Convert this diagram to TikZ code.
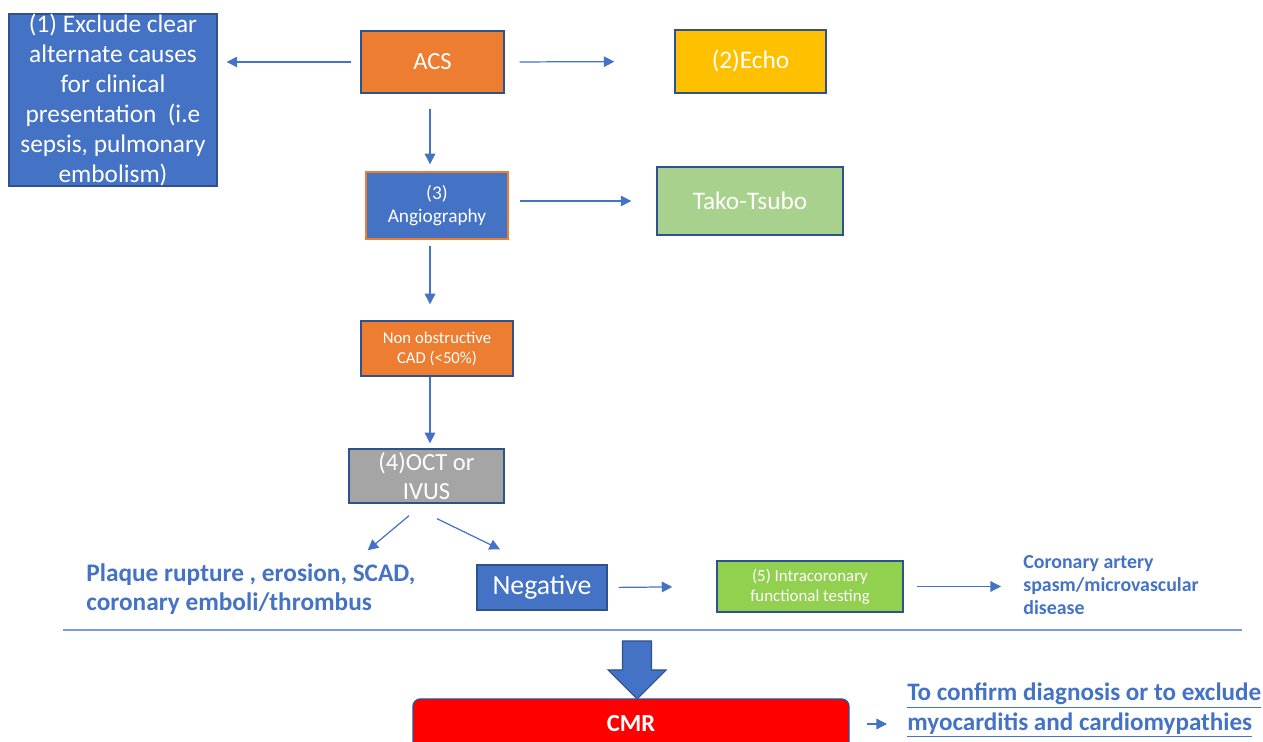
\documentclass[tikz,border=0pt]{standalone}
\usepackage{fontspec}
\setmainfont{Carlito}
\usetikzlibrary{arrows.meta}

\definecolor{boxblue}{HTML}{4472C4}
\definecolor{edgeblue}{HTML}{2F528F}
\definecolor{boxorange}{HTML}{ED7D31}
\definecolor{boxgold}{HTML}{FFC000}
\definecolor{boxsage}{HTML}{A9D18E}
\definecolor{boxlime}{HTML}{92D050}
\definecolor{boxgrey}{HTML}{A5A5A5}
\definecolor{boxred}{HTML}{FF0000}

\tikzset{
    box/.style={draw=edgeblue, line width=0.8pt, text=white, align=center, inner sep=0pt},
    flow/.style={draw=boxblue, line width=0.7pt, -{Triangle[length=6pt, width=6pt]}},
    note/.style={text=boxblue, align=left, inner sep=0pt, anchor=west}
}

\begin{document}
\begin{tikzpicture}
        \useasboundingbox (0, 0) rectangle (25.26, 14.84);

        % Boxes and labels:
        \node[box, fill=boxblue, minimum width=4.16cm, minimum height=3.44cm, font=\fontsize{14.4}{17}\selectfont] (excl) at (2.26, 12.84) {(1) Exclude clear\\ alternate causes\\ for clinical\\ presentation~~(i.e\\ sepsis, pulmonary\\ embolism)};
        \node[box, fill=boxorange, minimum width=2.86cm, minimum height=1.24cm, font=\fontsize{14}{17}\selectfont] (acs) at (8.65, 13.6) {ACS};
        \node[box, fill=boxgold, minimum width=3.02cm, minimum height=1.26cm, font=\fontsize{14.4}{17}\selectfont] (echo) at (15.01, 13.61) {(2)Echo};
        \node[box, draw=boxorange, fill=boxblue, minimum width=2.84cm, minimum height=1.34cm, font=\fontsize{11}{13}\selectfont] (angio) at (8.74, 10.73) {(3)\\ Angiography};
        \node[box, fill=boxsage, minimum width=3.72cm, minimum height=1.36cm, font=\fontsize{14.4}{17}\selectfont] (tako) at (15.0, 10.82) {Tako-Tsubo};
        \node[box, fill=boxorange, minimum width=3.04cm, minimum height=1.1cm, font=\fontsize{9.5}{11.5}\selectfont] (nonobs) at (8.74, 7.87) {Non obstructive\\ CAD (<50\%)};
        \node[box, fill=boxgrey, minimum width=3.1cm, minimum height=1.08cm, font=\fontsize{14}{16.5}\selectfont] (oct) at (8.53, 5.32) {(4)OCT or\\ IVUS};
        \node[note, font=\bfseries\fontsize{14.4}{16.5}\selectfont] (plaque) at (1.72, 3.06) {Plaque rupture , erosion, SCAD,\\ coronary emboli/thrombus};
        \node[box, fill=boxblue, minimum width=2.6cm, minimum height=0.9cm, font=\fontsize{15.8}{17}\selectfont] (neg) at (10.84, 3.09) {Negative};
        \node[box, fill=boxlime, minimum width=3.72cm, minimum height=1.02cm, font=\fontsize{9.6}{11.5}\selectfont] (intra) at (16.2, 3.11) {(5) Intracoronary\\ functional testing};
        \node[note, font=\bfseries\fontsize{11.3}{13}\selectfont] (spasm) at (20.46, 3.14) {Coronary artery\\ spasm/microvascular\\ disease};
        \node[box, fill=boxred, rounded corners=0.15cm, minimum width=8.72cm, minimum height=1.0cm, font=\bfseries\fontsize{14}{15}\selectfont] (cmr) at (12.62, 0.36) {CMR};
        \node[note, font=\bfseries\fontsize{14.3}{17}\selectfont] (goal) at (18.14, 0.64) {\underline{To confirm diagnosis or to exclude}\\ \underline{myocarditis and cardiomypathies}};

        % Divider and block arrow:
        \draw[boxblue!70, line width=0.6pt] (1.26, 2.24) -- (24.84, 2.24);
        \coordinate (tip) at (12.74, 0.86);
        \filldraw[fill=boxblue, draw=edgeblue, line width=0.6pt] (tip) -- ++(0.58, 0.58) -- ++(-0.29, 0) -- ++(0, 0.58) -- ++(-0.58, 0) -- ++(0, -0.58) -- ++(-0.29, 0) -- cycle;

        % Arrows:
        \draw[flow, shorten <=0.18cm, shorten >=0.18cm] (acs.west) -- (acs.west -| excl.east);
        \draw[flow, shorten <=0.3cm, shorten >=1.2cm] (acs.east) -- (echo.west);
        \draw[flow, shorten <=0.3cm, shorten >=0.14cm] ([xshift=-0.05cm]acs.south) -- ([xshift=-0.05cm]acs.south |- angio.north);
        \draw[flow, shorten <=0.22cm, shorten >=0.5cm] (tako.west -| angio.east) -- (tako.west);
        \draw[flow, shorten <=0.12cm, shorten >=0.32cm] ([xshift=-0.14cm]angio.south) -- ([xshift=-0.14cm]nonobs.north);
        \draw[flow, shorten >=0.1cm] ([xshift=-0.14cm]nonobs.south) -- ([xshift=-0.14cm]nonobs.south |- oct.north);
        \draw[flow] ([xshift=-0.35cm, yshift=-0.24cm]oct.south) -- ([xshift=-0.96cm, yshift=0.26cm]plaque.north east);
        \draw[flow] ([xshift=0.21cm, yshift=-0.3cm]oct.south) -- ([xshift=-0.84cm, yshift=0.3cm]neg.north);
        \draw[flow, shorten <=0.22cm, shorten >=0.88cm] (neg.east) -- (intra.west);
        \draw[flow, shorten <=0.26cm, shorten >=0.44cm] (intra.east) -- (intra.east -| spasm.west);
        \draw[flow, shorten <=0.34cm, shorten >=0.4cm] (cmr.east) -- (cmr.east -| goal.west);
    \end{tikzpicture}
\end{document}
